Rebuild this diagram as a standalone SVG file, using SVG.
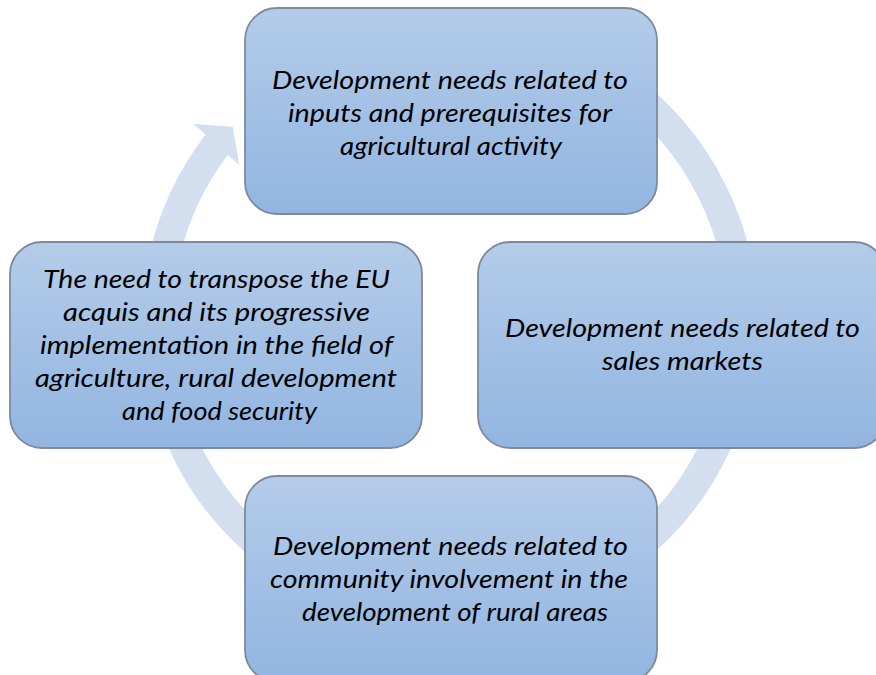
<svg xmlns="http://www.w3.org/2000/svg" width="876" height="675" viewBox="0 0 876 675">
  <defs>
    <linearGradient id="boxFill" x1="0" y1="0" x2="0" y2="1">
      <stop offset="0" stop-color="#b4cce9"/>
      <stop offset="1" stop-color="#92b5e1"/>
    </linearGradient>
  </defs>
  <style>
    .box { fill: url(#boxFill); stroke: #7e8a9c; stroke-width: 1.8; }
    .ring { fill: none; stroke: #d3deef; stroke-width: 30; stroke-linecap: butt; }
    .head { fill: #d3deef; stroke: none; }
    .lbl { font-family: Lato, "Open Sans", "Liberation Sans", sans-serif; font-style: italic; font-size: 26px; fill: #000000; text-anchor: middle; }
  </style>
  <rect width="876" height="675" fill="#ffffff"/>

  <g id="connectors">
    <path class="ring" d="M 349.8 46.7 A 293 293 0 1 1 217.5 143.6"/>
    <polygon class="head" points="193.3,124 232.7,126.7 239.3,165 230,156.7 205,134"/>
  </g>

  <g id="node-inputs">
    <rect class="box" x="245" y="8" width="412" height="206" rx="32" ry="32"/>
    <text class="lbl" x="450" y="89" textLength="356" lengthAdjust="spacingAndGlyphs">Development needs related to</text>
    <text class="lbl" x="450" y="122" textLength="324" lengthAdjust="spacingAndGlyphs">inputs and prerequisites for</text>
    <text class="lbl" x="451" y="155" textLength="222" lengthAdjust="spacingAndGlyphs">agricultural activity</text>
  </g>

  <g id="node-markets">
    <rect class="box" x="478" y="242" width="408" height="206" rx="32" ry="32"/>
    <text class="lbl" x="682.5" y="337" textLength="355" lengthAdjust="spacingAndGlyphs">Development needs related to</text>
    <text class="lbl" x="682.5" y="370" textLength="161" lengthAdjust="spacingAndGlyphs">sales markets</text>
  </g>

  <g id="node-community">
    <rect class="box" x="245" y="476" width="412" height="206" rx="32" ry="32"/>
    <text class="lbl" x="450.5" y="555" textLength="355" lengthAdjust="spacingAndGlyphs">Development needs related to</text>
    <text class="lbl" x="449" y="588" textLength="358" lengthAdjust="spacingAndGlyphs">community involvement in the</text>
    <text class="lbl" x="455" y="621" textLength="306" lengthAdjust="spacingAndGlyphs">development of rural areas</text>
  </g>

  <g id="node-acquis">
    <rect class="box" x="10" y="242" width="412" height="206" rx="32" ry="32"/>
    <text class="lbl" x="216.5" y="288" textLength="347" lengthAdjust="spacingAndGlyphs">The need to transpose the EU</text>
    <text class="lbl" x="216.5" y="321" textLength="307" lengthAdjust="spacingAndGlyphs">acquis and its progressive</text>
    <text class="lbl" x="216.5" y="354" textLength="353" lengthAdjust="spacingAndGlyphs">implementation in the field of</text>
    <text class="lbl" x="216" y="387" textLength="362" lengthAdjust="spacingAndGlyphs">agriculture, rural development</text>
    <text class="lbl" x="219.5" y="420" textLength="195" lengthAdjust="spacingAndGlyphs">and food security</text>
  </g>
</svg>
